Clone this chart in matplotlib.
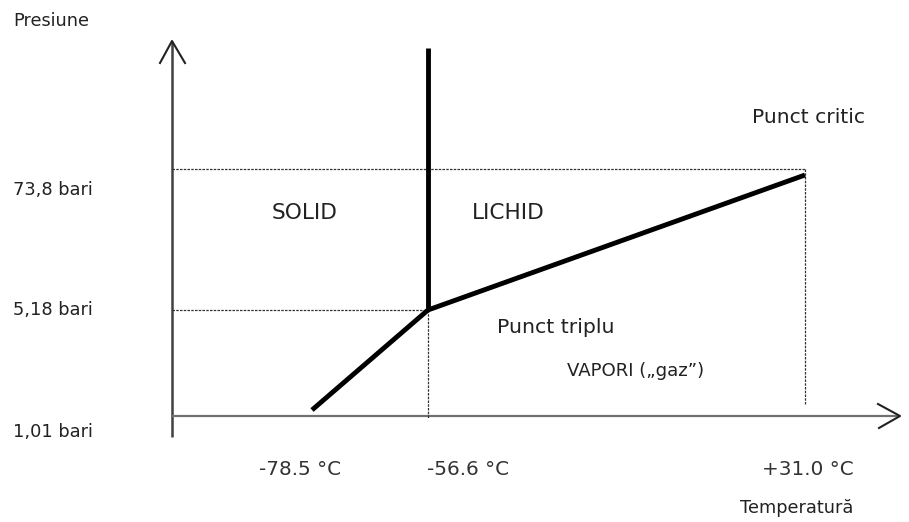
import matplotlib.pyplot as plt

plt.rcParams["font.family"] = ["DejaVu Sans"]

# schematic diagram positions (pixel-like units, y grows downward)
temp_labels = ["-78.5 °C", "-56.6 °C", "+31.0 °C"]
temp_x = [259, 427, 762]
press_labels = ["73,8 bari", "5,18 bari", "1,01 bari"]
press_y = [195, 315, 437]

# phase boundary curves
subl_x = [312, 428]
subl_y = [410, 310]
melt_x = [428, 428]
melt_y = [310, 48]
vap_x = [428, 805]
vap_y = [310, 175]

# guide lines
crit_level_y = 169
triple_level_y = 310
axis_x0, axis_y0 = 172, 416

# label, x, baseline y, font size
regions = [("SOLID", 272, 219, 15.6), ("LICHID", 472, 219, 15.6),
           ("Punct critic", 752, 123, 14.6), ("Punct triplu", 497, 333, 14.7),
           ("VAPORI (\u201egaz\u201d)", 567, 376, 13.1)]

fig = plt.figure(figsize=(9.09, 5.22), dpi=100)
ax = fig.add_axes([0, 0, 1, 1])
ax.set_xlim(0, 909)
ax.set_ylim(522, 0)
ax.axis("off")

# axes with open arrowheads
ax.plot([axis_x0, axis_x0], [437, 42], color="#404040", lw=1.8, solid_capstyle="butt")
ax.plot([axis_x0, 899], [axis_y0, axis_y0], color="#707070", lw=1.6, solid_capstyle="butt")
ax.plot([160, axis_x0, 185], [63, 41, 63], color="#222222", lw=1.5)
ax.plot([878, 900, 879], [404, 416, 428], color="#222222", lw=1.5)

# dotted guides
dot = dict(color="#333333", lw=0.9, ls=(0, (2, 1)))
ax.plot([axis_x0, vap_x[1]], [crit_level_y, crit_level_y], **dot)
ax.plot([vap_x[1], vap_x[1]], [crit_level_y, 404], **dot)
ax.plot([axis_x0, subl_x[1]], [triple_level_y, triple_level_y], **dot)
ax.plot([subl_x[1], subl_x[1]], [triple_level_y, 418], **dot)

# phase boundaries
for xs, ys in [(subl_x, subl_y), (melt_x, melt_y), (vap_x, vap_y)]:
    ax.plot(xs, ys, color="black", lw=3.5, solid_capstyle="butt")

tc = "#222222"
ax.text(13, 26, "Presiune", fontsize=12.7, color=tc, va="baseline", ha="left")
for lab, y in zip(press_labels, press_y):
    ax.text(13, y, lab, fontsize=12.8, color=tc, va="baseline", ha="left")
for lab, x in zip(temp_labels, temp_x):
    ax.text(x, 475, lab, fontsize=14.4, color="#333333", va="baseline", ha="left")
ax.text(740, 513, "Temperatură", fontsize=12.8, color=tc, va="baseline", ha="left")
for lab, x, y, fs in regions:
    ax.text(x, y, lab, fontsize=fs, color=tc, va="baseline", ha="left")

fig.savefig("out.png", dpi=100)
